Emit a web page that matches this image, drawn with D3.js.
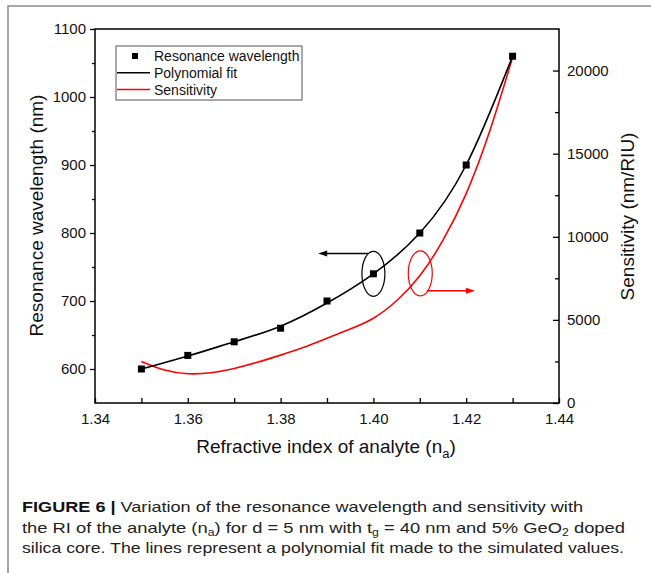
<!DOCTYPE html>
<html>
<head>
<meta charset="utf-8">
<script src="https://cdn.jsdelivr.net/npm/d3@7"></script>
<style>
  html, body { margin: 0; padding: 0; background: #fff; }
  svg { display: block; }
  text { font-family: "Liberation Sans", Arial, Helvetica, sans-serif; }
</style>
</head>
<body>
<svg id="chart" width="651" height="573"></svg>
<script>
// ---- data ----
const refractiveIndex = [1.35, 1.36, 1.37, 1.38, 1.39, 1.40, 1.41, 1.42, 1.43];
const resonanceWavelength = [600, 620, 640, 660, 700, 740, 800, 900, 1060];
// polynomial fit line
const polynomialFit = [600, 619, 640, 663, 697, 740, 800, 900, 1060];

const sensitivityRI = [1.350, 1.355, 1.360, 1.365, 1.370, 1.375, 1.380, 1.385, 1.390,
                       1.395, 1.400, 1.405, 1.410, 1.415, 1.420, 1.425, 1.430];
const sensitivity = [2500, 1980, 1760, 1820, 2080, 2450, 2880, 3350, 3900,
                     4450, 5100, 6150, 7650, 9800, 12600, 16300, 20800];

const xTickLabels = [1.34, 1.36, 1.38, 1.40, 1.42, 1.44];
const xMinorTicks = [1.35, 1.37, 1.39, 1.41, 1.43];
const yLeftTicks = [600, 700, 800, 900, 1000, 1100];
const yLeftMinor = [650, 750, 850, 950, 1050];
const yRightTicks = [0, 5000, 10000, 15000, 20000];
const yRightMinor = [2500, 7500, 12500, 17500];

const legendLabels = ["Resonance wavelength", "Polynomial fit", "Sensitivity"];

// annotation anchors (data space)
const leftMarker = { ri: 1.40, value: 740, arrowY: 770, arrowFrom: 1.3988, arrowTo: 1.3881 };
const rightMarker = { ri: 1.4101, value: 7800, arrowY: 6750, arrowFrom: 1.4115, arrowTo: 1.4219 };

// ---- layout ----
const svg = d3.select("#chart");
const M = { left: 95, right: 559, top: 29, bottom: 403 };

const x = d3.scaleLinear().domain([1.34, 1.44]).range([M.left, M.right]);
const yL = d3.scaleLinear().domain([550, 1100]).range([M.bottom, M.top]);
const yR = d3.scaleLinear().domain([0, 22500]).range([M.bottom, M.top]);

// figure frame (top and left border)
svg.append("path")
  .attr("d", `M8,573 L8,6 L651,6`)
  .attr("fill", "none").attr("stroke", "#8a8a8a").attr("stroke-width", 1.5);

const tickFont = 15;

// left axis
const gL = svg.append("g").attr("transform", `translate(${M.left},0)`)
  .call(d3.axisLeft(yL).tickValues(yLeftTicks).tickSize(5).tickSizeOuter(0).tickPadding(4).tickFormat(d3.format("d")));
gL.append("g").call(d3.axisLeft(yL).tickValues(yLeftMinor).tickSize(3).tickSizeOuter(0).tickFormat(""));

// right axis
const gR = svg.append("g").attr("transform", `translate(${M.right},0)`)
  .call(d3.axisRight(yR).tickValues(yRightTicks).tickSize(-6).tickSizeOuter(0).tickPadding(8).tickFormat(d3.format("d")));
gR.append("g").call(d3.axisRight(yR).tickValues(yRightMinor).tickSize(-4).tickSizeOuter(0).tickFormat(""));

// bottom axis
const gB = svg.append("g").attr("transform", `translate(0,${M.bottom})`)
  .call(d3.axisBottom(x).tickValues(xTickLabels).tickSize(-5).tickSizeOuter(0).tickPadding(10).tickFormat(d3.format(".2f")));
gB.append("g").call(d3.axisBottom(x).tickValues(xMinorTicks).tickSize(-5).tickSizeOuter(0).tickFormat(""));

svg.selectAll(".domain").attr("stroke", "none");
svg.selectAll(".tick line").attr("stroke", "#000").attr("stroke-width", 1.3);
svg.selectAll(".tick text").attr("font-size", tickFont).attr("fill", "#111")
  .attr("font-family", "'Liberation Sans', Arial, sans-serif");

// plot frame
svg.append("rect")
  .attr("x", M.left).attr("y", M.top)
  .attr("width", M.right - M.left).attr("height", M.bottom - M.top)
  .attr("fill", "none").attr("stroke", "#000").attr("stroke-width", 1.5);

// sensitivity curve (red)
const sensLine = d3.line().x((d, i) => x(sensitivityRI[i])).y(d => yR(d)).curve(d3.curveNatural);
svg.append("path").datum(sensitivity)
  .attr("d", sensLine)
  .attr("fill", "none").attr("stroke", "#ff0000").attr("stroke-width", 1.6);

// polynomial fit (black)
const fitLine = d3.line().x((d, i) => x(refractiveIndex[i])).y(d => yL(d)).curve(d3.curveNatural);
svg.append("path").datum(polynomialFit)
  .attr("d", fitLine)
  .attr("fill", "none").attr("stroke", "#000").attr("stroke-width", 1.6);

// markers
const sq = 7;
svg.append("g").selectAll("rect").data(resonanceWavelength).join("rect")
  .attr("x", (d, i) => x(refractiveIndex[i]) - sq / 2)
  .attr("y", d => yL(d) - sq / 2)
  .attr("width", sq).attr("height", sq)
  .attr("fill", "#000");

// annotations
function arrow(color, x1, x2, yy) {
  const dir = x2 > x1 ? 1 : -1;
  svg.append("line").attr("x1", x1).attr("x2", x2 - dir * 6).attr("y1", yy).attr("y2", yy)
    .attr("stroke", color).attr("stroke-width", 1.5);
  svg.append("path")
    .attr("d", `M${x2},${yy} L${x2 - dir * 9},${yy - 3} L${x2 - dir * 9},${yy + 3} Z`)
    .attr("fill", color);
}
svg.append("ellipse")
  .attr("cx", x(leftMarker.ri)).attr("cy", yL(leftMarker.value))
  .attr("rx", 11.5).attr("ry", 22.5)
  .attr("fill", "none").attr("stroke", "#000").attr("stroke-width", 1.2);
arrow("#000", x(leftMarker.arrowFrom), x(leftMarker.arrowTo), yL(leftMarker.arrowY));

svg.append("ellipse")
  .attr("cx", x(rightMarker.ri)).attr("cy", yR(rightMarker.value))
  .attr("rx", 12).attr("ry", 22.5)
  .attr("fill", "none").attr("stroke", "#ff0000").attr("stroke-width", 1.2);
arrow("#ff0000", x(rightMarker.arrowFrom), x(rightMarker.arrowTo), yR(rightMarker.arrowY));

// legend
const lg = svg.append("g");
lg.append("rect").attr("x", 116).attr("y", 46).attr("width", 186).attr("height", 54)
  .attr("fill", "#fff").attr("stroke", "#555").attr("stroke-width", 1);
const rowsY = [56, 72.7, 89.5];
lg.append("rect").attr("x", 135 - 3).attr("y", rowsY[0] - 3).attr("width", 6).attr("height", 6).attr("fill", "#000");
lg.append("line").attr("x1", 117).attr("x2", 150).attr("y1", rowsY[1]).attr("y2", rowsY[1])
  .attr("stroke", "#000").attr("stroke-width", 1.6);
lg.append("line").attr("x1", 117).attr("x2", 150).attr("y1", rowsY[2]).attr("y2", rowsY[2])
  .attr("stroke", "#ff0000").attr("stroke-width", 1.6);
lg.selectAll("text.lt").data(legendLabels).join("text").attr("class", "lt")
  .attr("x", 154).attr("y", (d, i) => rowsY[i] + 5)
  .attr("font-size", 14).attr("fill", "#111").text(d => d);

// axis titles
const titleSize = 19;
svg.append("text")
  .attr("transform", `translate(43,215.5) rotate(-90)`)
  .attr("text-anchor", "middle").attr("font-size", titleSize).attr("fill", "#111")
  .text("Resonance wavelength (nm)");
svg.append("text")
  .attr("transform", `translate(634,216.5) rotate(-90)`)
  .attr("text-anchor", "middle").attr("font-size", titleSize).attr("fill", "#111")
  .text("Sensitivity (nm/RIU)");
const xt = svg.append("text")
  .attr("x", 326).attr("y", 453).attr("text-anchor", "middle")
  .attr("font-size", titleSize).attr("fill", "#111");
xt.append("tspan").text("Refractive index of analyte (n");
xt.append("tspan").attr("dy", 5).attr("font-size", 13).text("a");
xt.append("tspan").attr("dy", -5).text(")");

// caption
const capSize = 15;
const c1 = svg.append("text").attr("x", 22).attr("y", 512).attr("font-size", capSize).attr("fill", "#222")
  .attr("textLength", 561).attr("lengthAdjust", "spacingAndGlyphs");
c1.append("tspan").attr("font-weight", "bold").attr("fill", "#111").text("FIGURE 6 | ");
c1.append("tspan").text("Variation of the resonance wavelength and sensitivity with");

const c2 = svg.append("text").attr("x", 22).attr("y", 532.5).attr("font-size", capSize).attr("fill", "#222")
  .attr("textLength", 603).attr("lengthAdjust", "spacingAndGlyphs");
c2.append("tspan").text("the RI of the analyte (n");
c2.append("tspan").attr("dy", 3).attr("font-size", 10).text("a");
c2.append("tspan").attr("dy", -3).text(") for d = 5 nm with t");
c2.append("tspan").attr("dy", 3).attr("font-size", 10).text("g");
c2.append("tspan").attr("dy", -3).text(" = 40 nm and 5% GeO");
c2.append("tspan").attr("dy", 3).attr("font-size", 10).text("2");
c2.append("tspan").attr("dy", -3).text(" doped");

svg.append("text").attr("x", 22).attr("y", 553).attr("font-size", capSize).attr("fill", "#222")
  .attr("textLength", 602).attr("lengthAdjust", "spacingAndGlyphs")
  .text("silica core. The lines represent a polynomial fit made to the simulated values.");
</script>
</body>
</html>
